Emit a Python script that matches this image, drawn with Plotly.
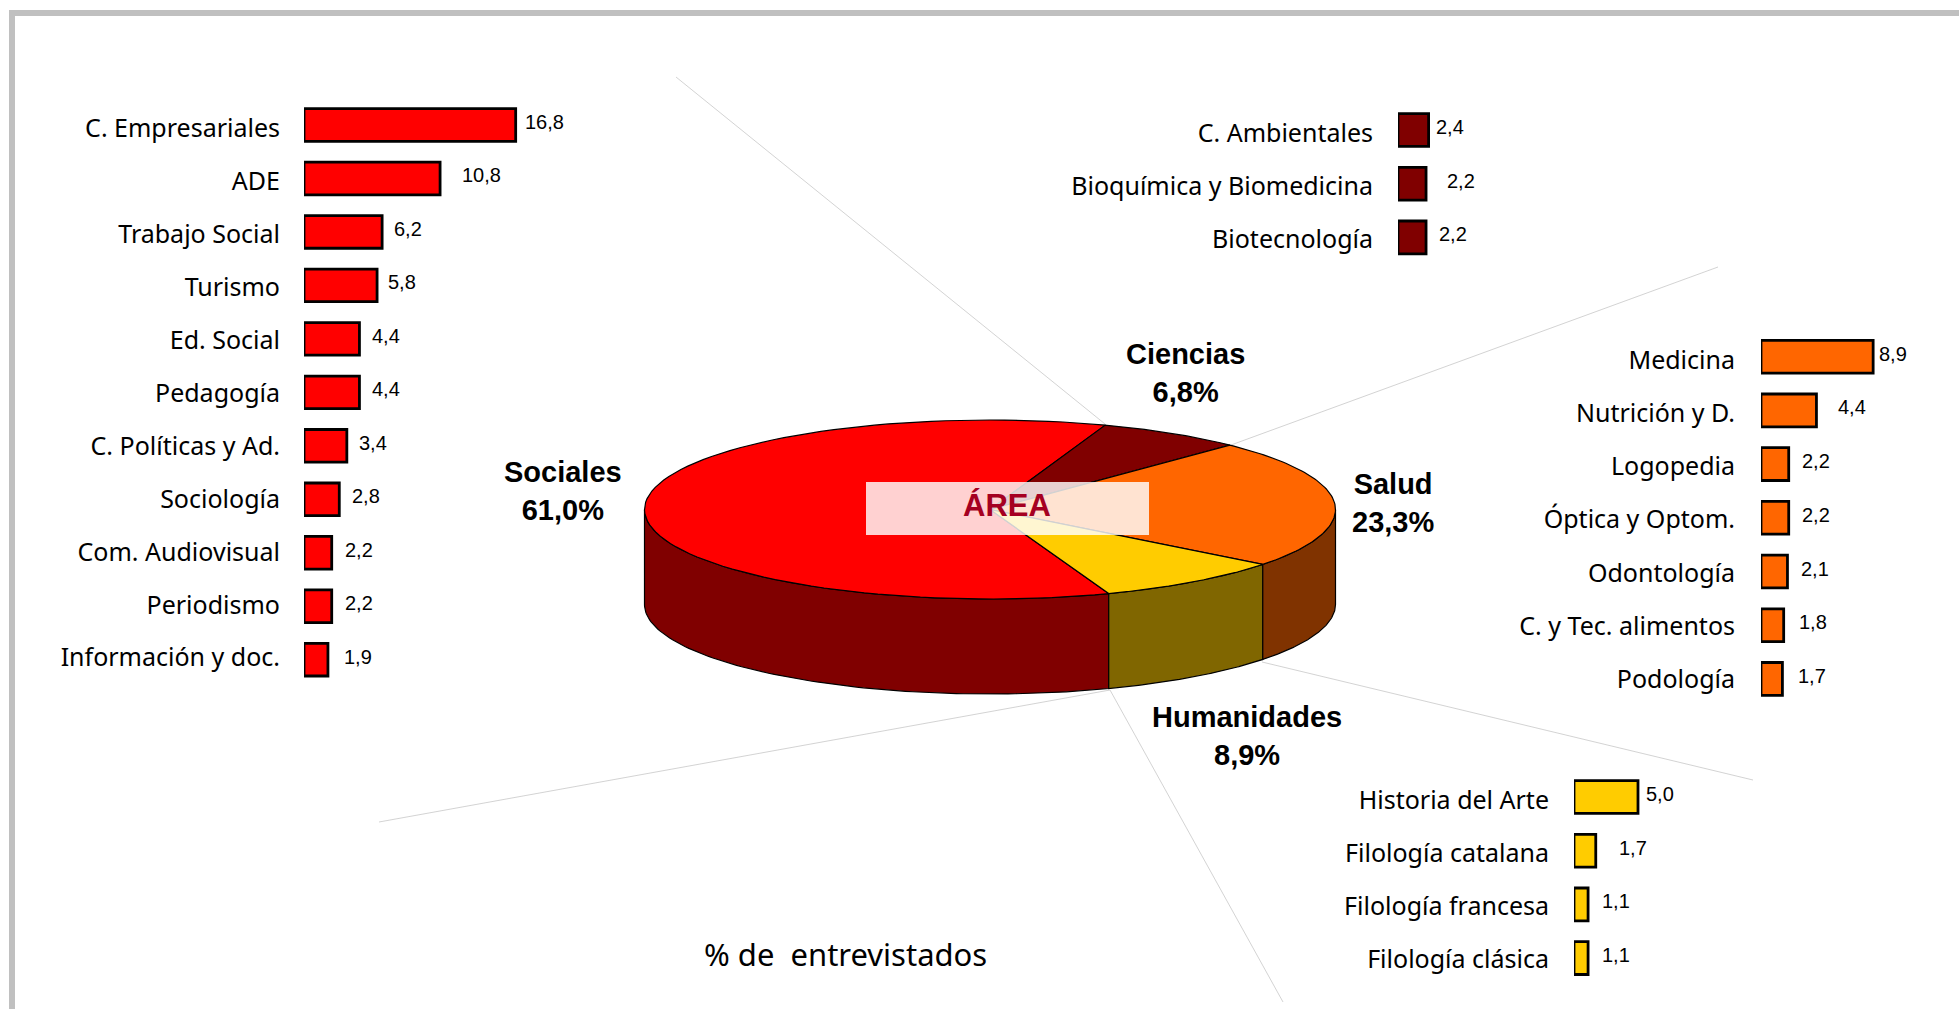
import math
import plotly.graph_objects as go

W, H = 1959, 1009

# ---------- data ----------
area_names = ["Sociales", "Ciencias", "Salud", "Humanidades"]
area_shares = [61.0, 6.8, 23.3, 8.9]

sociales_cats = ["C. Empresariales", "ADE", "Trabajo Social", "Turismo", "Ed. Social", "Pedagogía",
                 "C. Políticas y Ad.", "Sociología", "Com. Audiovisual", "Periodismo", "Información y doc."]
sociales_vals = [16.8, 10.8, 6.2, 5.8, 4.4, 4.4, 3.4, 2.8, 2.2, 2.2, 1.9]

ciencias_cats = ["C. Ambientales", "Bioquímica y Biomedicina", "Biotecnología"]
ciencias_vals = [2.4, 2.2, 2.2]

salud_cats = ["Medicina", "Nutrición y D.", "Logopedia", "Óptica y Optom.", "Odontología",
              "C. y Tec. alimentos", "Podología"]
salud_vals = [8.9, 4.4, 2.2, 2.2, 2.1, 1.8, 1.7]

human_cats = ["Historia del Arte", "Filología catalana", "Filología francesa", "Filología clásica"]
human_vals = [5.0, 1.7, 1.1, 1.1]

# ---------- style / layout ----------
LABEL_FONT = "Noto Sans"
VALUE_FONT = "Liberation Sans"

groups = [
    dict(cats=sociales_cats, vals=sociales_vals, color="#FF0000", x0=304, c0=125.0, step=53.47, standoff=23,
         ppu=12.6, lab_c0=128.7, lab_step=52.9, gaps=[7, 20, 10, 9, 11, 11, 10, 11, 11, 11, 14]),
    dict(cats=ciencias_cats, vals=ciencias_vals, color="#800000", x0=1398, c0=130.0, step=53.7, standoff=24,
         ppu=12.75, lab_c0=133.7, lab_step=53.0, gaps=[5, 19, 11]),
    dict(cats=salud_cats, vals=salud_vals, color="#FF6600", x0=1761, c0=356.7, step=53.7, standoff=25,
         ppu=12.6, lab_c0=360.4, lab_step=53.1, gaps=[4, 20, 11, 11, 12, 13, 14]),
    dict(cats=human_cats, vals=human_vals, color="#FFCC00", x0=1574, c0=797.0, step=53.7, standoff=24,
         ppu=12.8, lab_c0=800.7, lab_step=52.9, gaps=[6, 21, 12, 12]),
]

pie_cx, pie_cy, pie_rx, pie_ry, pie_depth = 990.0, 509.5, 345.5, 89.5, 95.0
pie_start_deg = 70.5
pie_top = {"Sociales": "#FF0000", "Ciencias": "#800000", "Salud": "#FF6600", "Humanidades": "#FFCC00"}
pie_side = {"Sociales": "#800000", "Ciencias": "#800000", "Salud": "#803300", "Humanidades": "#806600"}

fig = go.Figure()
layout = dict(
    width=W, height=H, margin=dict(l=0, r=0, t=0, b=0, autoexpand=False), showlegend=False,
    paper_bgcolor="white", plot_bgcolor="rgba(0,0,0,0)", hovermode=False,
    xaxis=dict(domain=[0, 1], range=[0, W], visible=False, fixedrange=True),
    yaxis=dict(domain=[0, 1], range=[H, 0], visible=False, fixedrange=True),
)
annotations = []


def pt(t, dz=0.0):
    return pie_cx + pie_rx * math.cos(t), pie_cy - pie_ry * math.sin(t) + dz


def arc(a0, a1, dz=0.0, n=90):
    pts = [pt(a0 + (a1 - a0) * i / n, dz) for i in range(n + 1)]
    return [p[0] for p in pts], [p[1] for p in pts]


# slice boundaries follow from the shares (clockwise)
bounds = {}
ang = math.radians(pie_start_deg)
soc = area_shares[0] / 100 * 2 * math.pi
bounds["Sociales"] = (ang + soc, ang)
cur = ang
for name, share in zip(area_names[1:], area_shares[1:]):
    nxt = cur - share / 100 * 2 * math.pi
    bounds[name] = (cur, nxt)
    cur = nxt

# side walls (only the part facing the viewer, angles from pi to 2 pi)
for name in ["Sociales", "Humanidades", "Salud"]:
    a, b = bounds[name]
    lo, hi = min(a, b), max(a, b)
    if name == "Sociales":
        s0, s1 = math.pi, hi
    else:
        s0, s1 = lo + 2 * math.pi, min(hi + 2 * math.pi, 2 * math.pi)
    xa, ya = arc(s0, s1)
    xb, yb = arc(s1, s0, pie_depth)
    fig.add_trace(go.Scatter(x=xa + xb + xa[:1], y=ya + yb + ya[:1], mode="lines", fill="toself",
                             fillcolor=pie_side[name], line=dict(color="black", width=1.2),
                             hoverinfo="skip", name=name))

# top faces
for name in area_names:
    a, b = bounds[name]
    xa, ya = arc(a, b)
    fig.add_trace(go.Scatter(x=[pie_cx] + xa + [pie_cx], y=[pie_cy] + ya + [pie_cy], mode="lines", fill="toself",
                             fillcolor=pie_top[name], line=dict(color="black", width=1.2),
                             hoverinfo="skip", name=name))

# bar panels: bars on a category axis, labels on a companion axis whose spacing follows the reference
for i, g in enumerate(groups, start=2):
    n = len(g["cats"])
    top = g["c0"] - g["step"] / 2
    bottom = g["c0"] + g["step"] * (n - 0.5)
    lab_top = g["lab_c0"] - g["lab_step"] / 2
    lab_bottom = g["lab_c0"] + g["lab_step"] * (n - 0.5)
    width_px = 150 if g["x0"] > 1700 else 260
    xname, yname, lname = f"x{i}", f"y{i}", f"y{i + 10}"
    fig.add_trace(go.Bar(x=g["vals"], y=g["cats"], orientation="h", xaxis=xname, yaxis=yname,
                         width=0.61, marker=dict(color=g["color"], line=dict(color="black", width=2.8)),
                         hoverinfo="skip", cliponaxis=False))
    # invisible carrier so that the label axis is drawn by the library
    fig.add_trace(go.Scatter(x=[0] * n, y=g["cats"], xaxis=xname, yaxis=lname, mode="markers",
                             marker=dict(opacity=0, size=1), hoverinfo="skip"))
    layout[f"xaxis{i}"] = dict(domain=[g["x0"] / W, (g["x0"] + width_px) / W], range=[0, width_px / g["ppu"]],
                               anchor=yname, visible=False, fixedrange=True)
    layout[f"yaxis{i}"] = dict(domain=[1 - bottom / H, 1 - top / H], anchor=xname, range=[n - 0.5, -0.5],
                               type="category", showgrid=False, showline=False, zeroline=False, ticks="",
                               showticklabels=False, fixedrange=True)
    layout[f"yaxis{i + 10}"] = dict(domain=[1 - lab_bottom / H, 1 - lab_top / H], anchor=xname, range=[n - 0.5, -0.5],
                                    type="category", showgrid=False, showline=False, zeroline=False, ticks="",
                                    ticklabelstandoff=g["standoff"], fixedrange=True,
                                    tickfont=dict(family=LABEL_FONT, size=25, color="black"))
    for cat, val, gap in zip(g["cats"], g["vals"], g["gaps"]):
        annotations.append(dict(x=val, y=cat, xref=xname, yref=yname, text=f"{val:.1f}".replace(".", ","),
                                showarrow=False, xanchor="left", yanchor="middle", xshift=gap, yshift=3,
                                font=dict(family=VALUE_FONT, size=20, color="black")))

# pie labels
pie_label_pos = {"Sociales": (563, 491), "Ciencias": (1185, 373), "Salud": (1393, 503), "Humanidades": (1247, 736)}
for name, share in zip(area_names, area_shares):
    px, py = pie_label_pos[name]
    annotations.append(dict(x=px, y=py, xref="x", yref="y", showarrow=False, align="center",
                            text=f"{name}<br>{share:.1f}%".replace(".", ","),
                            font=dict(family=VALUE_FONT, size=29, color="black", weight="bold")))

annotations.append(dict(x=1007, y=505, xref="x", yref="y", text="ÁREA", showarrow=False,
                        font=dict(family=VALUE_FONT, size=31, color="#A50021", weight="bold")))
annotations.append(dict(x=845, y=954, xref="x", yref="y", text="% de \u00a0entrevistados", showarrow=False,
                        font=dict(family=LABEL_FONT, size=31, color="black")))

leader = dict(color="#C8C8C8", width=0.8)
shapes = [
    dict(type="rect", xref="x", yref="y", x0=9, x1=W, y0=10, y1=16, fillcolor="#C0C0C0", line_width=0, layer="below"),
    dict(type="rect", xref="x", yref="y", x0=9, x1=15, y0=10, y1=H, fillcolor="#C0C0C0", line_width=0, layer="below"),
    dict(type="line", xref="x", yref="y", x0=676, y0=77, x1=1105, y1=424, line=leader, layer="below"),
    dict(type="line", xref="x", yref="y", x0=1718, y0=267, x1=1231, y1=445, line=leader, layer="below"),
    dict(type="line", xref="x", yref="y", x0=1753, y0=780, x1=1262, y1=662, line=leader, layer="below"),
    dict(type="line", xref="x", yref="y", x0=1283, y0=1002, x1=1110, y1=690, line=leader, layer="below"),
    dict(type="line", xref="x", yref="y", x0=379, y0=822, x1=1110, y1=690, line=leader, layer="below"),
    dict(type="rect", xref="x", yref="y", x0=866, x1=1149, y0=482, y1=535, fillcolor="rgba(255,255,255,0.82)",
         line_width=0, layer="above"),
]

fig.update_layout(**layout, annotations=annotations, shapes=shapes)
fig.write_html("out.html", config={"displayModeBar": False},
               post_script="document.body.style.margin='0';document.body.style.overflow='hidden';")
